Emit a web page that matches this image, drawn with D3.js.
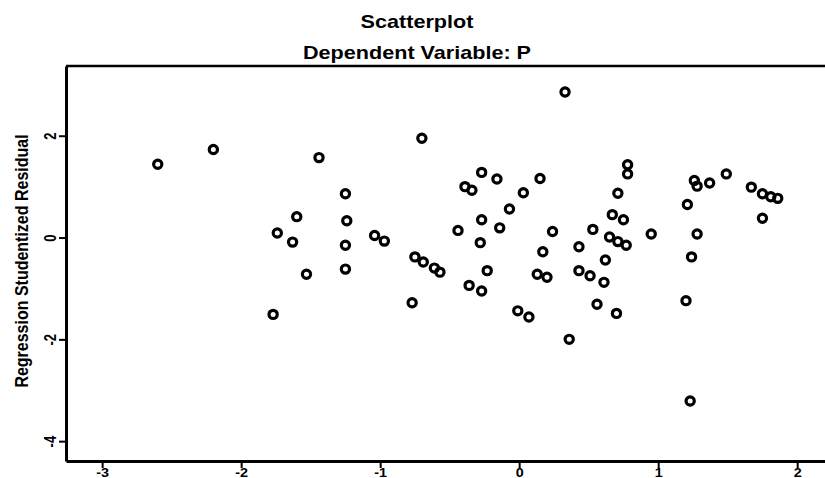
<!DOCTYPE html>
<html>
<head>
<meta charset="utf-8">
<script src="https://cdn.jsdelivr.net/npm/d3@7"></script>
<style>
  body { margin: 0; background: #fff; }
  svg { display: block; font-family: "Liberation Sans", Arial, sans-serif; font-weight: bold; }
</style>
</head>
<body>
<svg id="chart" width="825" height="478"></svg>
<script>
// Regression Standardized Predicted Value (x) vs Studentized Residual (y)
const predictedValue = [
  -2.60, -2.20, -1.77, -1.74, -1.63, -1.60, -1.53, -1.44, -1.25, -1.24,
  -1.25, -1.25, -1.04, -0.97, -0.77, -0.75, -0.69, -0.70, -0.61, -0.57,
  -0.44, -0.39, -0.34, -0.36, -0.27, -0.27, -0.16, -0.27, -0.28, -0.23,
  -0.14, -0.07, -0.01, 0.07, 0.03, 0.15, 0.17, 0.24, 0.13, 0.20,
  0.33, 0.36, 0.43, 0.43, 0.51, 0.53, 0.56, 0.61, 0.62, 0.65,
  0.71, 0.77, 0.70, 0.71, 0.67, 0.75, 0.78, 0.78, 0.95, 1.20,
  1.21, 1.24, 1.28, 1.23, 1.26, 1.28, 1.37, 1.49, 1.67, 1.75,
  1.81, 1.86, 1.75
];
const studentizedResidual = [
  1.44, 1.73, -1.51, 0.09, -0.09, 0.41, -0.72, 1.57, 0.86, 0.33,
  -0.15, -0.62, 0.04, -0.07, -1.28, -0.38, -0.48, 1.95, -0.60, -0.68,
  0.14, 1.00, 0.93, -0.94, -1.05, 1.28, 1.15, 0.35, -0.10, -0.65,
  0.19, 0.56, -1.44, -1.56, 0.88, 1.16, -0.28, 0.12, -0.72, -0.78,
  2.86, -2.00, -0.18, -0.65, -0.75, 0.16, -1.31, -0.88, -0.44, 0.01,
  -0.08, -0.15, -1.49, 0.87, 0.45, 0.35, 1.43, 1.25, 0.07, -1.24,
  0.65, -0.38, 0.07, -3.21, 1.12, 1.01, 1.07, 1.25, 0.99, 0.86,
  0.80, 0.77, 0.38
];
const xTicks = [-3, -2, -1, 0, 1, 2];
const yTicks = [-4, -2, 0, 2];

const points = predictedValue.map((v, i) => ({ x: v, y: studentizedResidual[i] }));

const svg = d3.select("#chart");

const x = d3.scaleLinear().domain([-3.26, 2.2]).range([66, 825]);
const y = d3.scaleLinear().domain([-4.39, 3.37]).range([461, 66]);

// titles (the original is stretched a bit horizontally)
svg.append("text")
  .attr("transform", "translate(417,28) scale(1.2,1)")
  .attr("text-anchor", "middle")
  .attr("font-size", 18)
  .text("Scatterplot");
svg.append("text")
  .attr("transform", "translate(417,59) scale(1.2,1)")
  .attr("text-anchor", "middle")
  .attr("font-size", 18)
  .text("Dependent Variable: P");

// y axis title
svg.append("text")
  .attr("transform", "translate(28,261) scale(1.2,1) rotate(-90)")
  .attr("text-anchor", "middle")
  .attr("font-size", 16)
  .text("Regression Studentized Residual");

// top frame line
svg.append("line")
  .attr("x1", x.range()[0]).attr("x2", x.range()[1])
  .attr("y1", y.range()[1]).attr("y2", y.range()[1])
  .attr("stroke", "#000")
  .attr("stroke-width", 2.5);

// left axis
const yAxis = svg.append("g")
  .attr("transform", `translate(${x.range()[0]},0)`)
  .call(d3.axisLeft(y).tickValues(yTicks).tickSize(7).tickSizeOuter(0).tickFormat(d => String(d)));
yAxis.select(".domain").attr("stroke-width", 3);
yAxis.selectAll(".tick line").attr("stroke-width", 2);
yAxis.selectAll(".tick text")
  .attr("x", 0).attr("y", 0).attr("dy", 0)
  .attr("text-anchor", "middle")
  .attr("font-size", 13)
  .attr("font-family", null)
  .attr("transform", "translate(-10,0) scale(1.2,1) rotate(-90)");

// bottom axis
const xAxis = svg.append("g")
  .attr("transform", `translate(0,${y.range()[0]})`)
  .call(d3.axisBottom(x).tickValues(xTicks).tickSize(7).tickSizeOuter(0).tickFormat(d => String(d)));
xAxis.select(".domain").attr("stroke-width", 3);
xAxis.selectAll(".tick line").attr("stroke-width", 2);
xAxis.selectAll(".tick text")
  .attr("y", 7)
  .attr("font-size", 12)
  .attr("font-family", null)
  .attr("transform", "scale(1.2,1)");

// points
svg.append("g")
  .selectAll("circle")
  .data(points)
  .enter()
  .append("circle")
  .attr("cx", d => x(d.x))
  .attr("cy", d => y(d.y))
  .attr("r", 4.1)
  .attr("fill", "none")
  .attr("stroke", "#000")
  .attr("stroke-width", 3.2);
</script>
</body>
</html>
